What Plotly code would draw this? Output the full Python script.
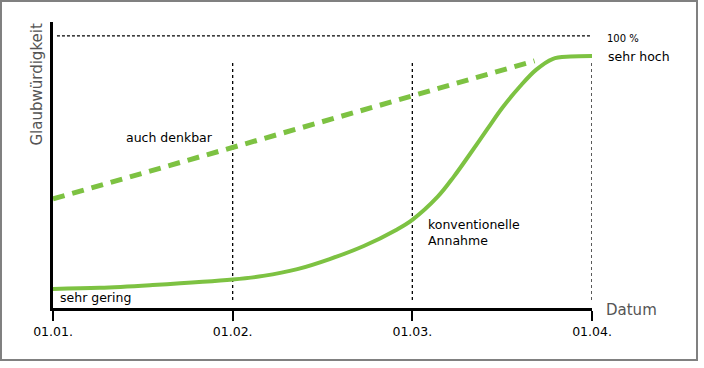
import plotly.graph_objects as go

# Data (x in months since 01.01., y in percent credibility)
months = [0, 1, 2, 3]
tick_labels = ["01.01.", "01.02.", "01.03.", "01.04."]

conv_x = [0, 0.26, 0.54, 1.0, 1.17, 1.36, 1.54, 1.73, 1.91, 2.0, 2.14, 2.23, 2.32, 2.42, 2.50, 2.60, 2.69, 2.78, 2.88, 3.0]
conv_y = [7.0, 7.4, 8.4, 10.5, 11.8, 14.3, 18.0, 22.8, 28.7, 32.4, 40.8, 48.2, 56.5, 66.0, 73.5, 81.5, 87.6, 91.5, 92.4, 92.6]

alt_x = [0, 2.68]
alt_y = [40.1, 90.8]

GREEN = "#7dc242"
FONT = "DejaVu Sans"

fig = go.Figure()
fig.add_trace(go.Scatter(x=alt_x, y=alt_y, mode="lines",
                         line=dict(color=GREEN, width=5, dash="12px,8px"),
                         hoverinfo="skip", showlegend=False))
fig.add_trace(go.Scatter(x=conv_x, y=conv_y, mode="lines",
                         line=dict(color=GREEN, width=4, shape="spline", smoothing=1.0),
                         hoverinfo="skip", showlegend=False))

# vertical dotted guides
for m in months[1:]:
    fig.add_shape(type="line", x0=m, x1=m, y0=2.9, y1=90.4, xref="x", yref="y",
                  line=dict(color="black", width=1.3, dash="3px,3px"), layer="below")
# 100% line
fig.add_shape(type="line", x0=0.022, x1=2.99, y0=100, y1=100, xref="x", yref="y",
              line=dict(color="black", width=1.3, dash="3px,2px"), layer="below")

# outer frame
fig.add_shape(type="rect", xref="paper", yref="paper",
              x0=-0.0965, x1=1.1948, y0=-0.1818, y1=1.0734,
              line=dict(color="#808080", width=2))

# annotations inside the plot (data coordinates)
ann = [
    dict(x=0.395, y=62.5, text="auch denkbar", align="left"),
    dict(x=0.026, y=3.7, text="sehr gering", align="left"),
    dict(x=2.076, y=27.8, text="konventionelle<br>Annahme", align="left"),
]
for a in ann:
    fig.add_annotation(x=a["x"], y=a["y"], xref="x", yref="y", text=a["text"], showarrow=False,
                       xanchor="left", yanchor="middle", align=a["align"],
                       font=dict(family=FONT, size=12.5, color="black"))

# annotations outside the plot (paper coordinates)
out_ann = [
    dict(x=1.024, y=0.944, text="100 %", size=10, color="black"),
    dict(x=1.026, y=0.881, text="sehr hoch", size=12.5, color="black"),
    dict(x=1.022, y=-0.007, text="Datum", size=15, color="#555555"),
]
for a in out_ann:
    fig.add_annotation(x=a["x"], y=a["y"], xref="paper", yref="paper", text=a["text"],
                       showarrow=False, xanchor="left", yanchor="middle",
                       font=dict(family=FONT, size=a["size"], color=a["color"]))
fig.add_annotation(xref="paper", yref="paper", x=-0.0306, y=1.0, text="Glaubwürdigkeit",
                   textangle=-90, showarrow=False, xanchor="center", yanchor="top",
                   font=dict(family=FONT, size=15, color="#555555"))

fig.update_layout(
    width=704, height=368,
    margin=dict(l=53, r=112, t=22, b=60),
    paper_bgcolor="white", plot_bgcolor="white",
    hovermode=False,
    font=dict(family=FONT, size=12.5, color="black"),
    xaxis=dict(range=[0, 3], tickvals=months, ticktext=tick_labels, showgrid=False,
               zeroline=False, showline=True, linecolor="black", linewidth=3,
               ticks="outside", ticklen=10, tickwidth=2, tickcolor="black",
               tickfont=dict(family=FONT, size=12.5, color="black")),
    yaxis=dict(range=[0, 105.1], showgrid=False, zeroline=False, showline=True,
               linecolor="black", linewidth=3, showticklabels=False, ticks=""),
)

fig.write_html("out.html", config={"displayModeBar": False},
               post_script="document.body.style.margin='0';document.body.style.overflow='hidden';")
